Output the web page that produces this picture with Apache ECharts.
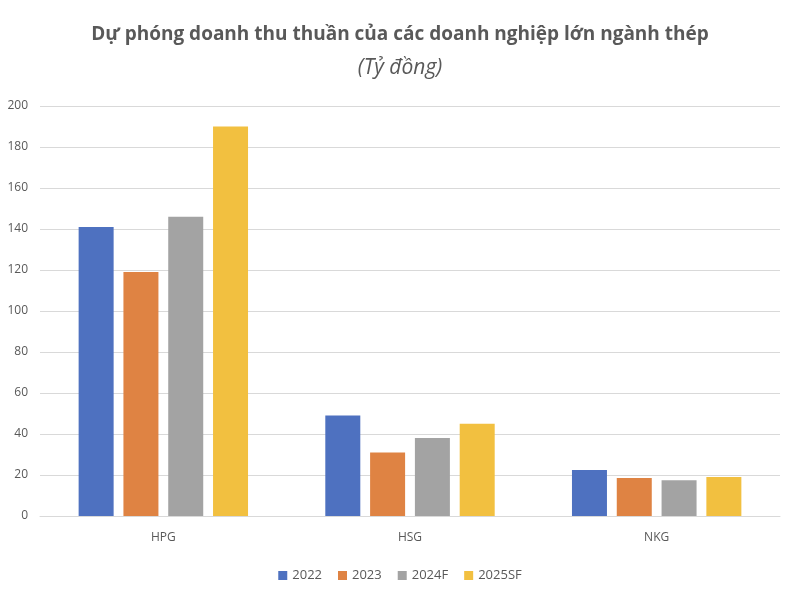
<!DOCTYPE html>
<html><head><meta charset="utf-8">
<script src="https://cdn.jsdelivr.net/npm/echarts@6/dist/echarts.min.js"></script>
<style>html,body{margin:0;padding:0;background:#fff}#c{width:800px;height:600px}</style>
</head><body><div id="c"></div>
<script>
const categories = ["HPG", "HSG", "NKG"];
const seriesNames = ["2022", "2023", "2024F", "2025SF"];
const v2022 = [141, 49, 22.5];
const v2023 = [119, 31, 18.5];
const v2024F = [146, 38, 17.5];
const v2025SF = [190, 45, 19];
const yTicks = [0, 200, 20];
const barColors = ["#4E71C0", "#DF8343", "#A3A3A3", "#F2C040"];
const values = [v2022, v2023, v2024F, v2025SF];
const ff = '"Open Sans", "Noto Sans", sans-serif';
const chart = echarts.init(document.getElementById('c'));
chart.setOption({
  animation: false,
  title: [{
    text: "Dự phóng doanh thu thuần của các doanh nghiệp lớn ngành thép",
    left: 'center', top: 20,
    textStyle: {fontFamily: ff, fontSize: 19, fontWeight: 'bold', color: '#595959'}
  }, {
    text: "(Tỷ đồng)",
    left: 'center', top: 53,
    textStyle: {fontFamily: ff, fontSize: 21, fontStyle: 'italic', fontWeight: 'normal', color: '#595959'}
  }],
  legend: {
    data: seriesNames, bottom: 13, left: 'center', itemWidth: 9, itemHeight: 9, itemGap: 16,
    icon: 'rect',
    textStyle: {fontFamily: ff, fontSize: 13, color: '#595959'}
  },
  grid: {left: 40, right: 20, top: 106, bottom: 84},
  xAxis: {
    type: 'category', data: categories,
    axisLine: {lineStyle: {color: '#D9D9D9'}}, axisTick: {show: false},
    axisLabel: {fontFamily: ff, fontSize: 12, color: '#595959', margin: 16}
  },
  yAxis: {
    type: 'value', min: yTicks[0], max: yTicks[1], interval: yTicks[2],
    axisLine: {show: false}, axisTick: {show: false},
    splitLine: {lineStyle: {color: '#D9D9D9', width: 1}},
    axisLabel: {fontFamily: ff, fontSize: 12, color: '#595959', margin: 12}
  },
  series: seriesNames.map((n, i) => ({
    name: n, type: 'bar', data: values[i], barWidth: 35, barGap: '28%',
    itemStyle: {color: barColors[i]}
  }))
});
</script></body></html>
